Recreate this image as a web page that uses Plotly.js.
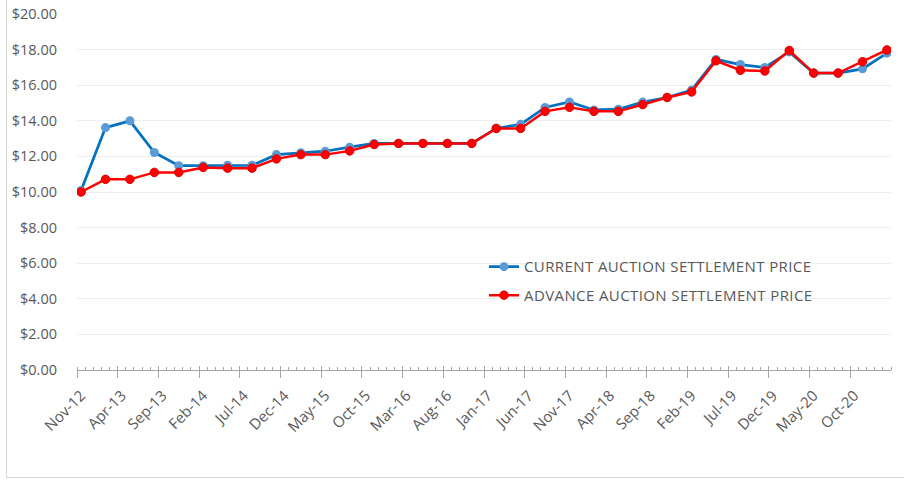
<!DOCTYPE html>
<html>
<head>
<meta charset="utf-8">
<script src="https://cdn.plot.ly/plotly-3.0.1.min.js"></script>
<style>
  html, body { margin: 0; padding: 0; background: #ffffff; overflow: hidden; }
  #wrap { position: relative; width: 904px; height: 480px; overflow: hidden; }
  #chart { position: absolute; left: 0; top: 0; width: 904px; height: 480px; }
  #frame { position: absolute; left: 6px; top: -20px; width: 920px; height: 496px;
           border: 1px solid #d4d4d4; pointer-events: none; }
  .legendtext { letter-spacing: 0.4px; }
</style>
</head>
<body>
<div id="wrap">
  <div id="chart"></div>
  <div id="frame"></div>
</div>
<script>
// Auction dates (quarterly) from Nov-2012 to Feb-2021
const auctionDates = [
  "2012-11","2013-02","2013-05","2013-08","2013-11",
  "2014-02","2014-05","2014-08","2014-11",
  "2015-02","2015-05","2015-08","2015-11",
  "2016-02","2016-05","2016-08","2016-11",
  "2017-02","2017-05","2017-08","2017-11",
  "2018-02","2018-05","2018-08","2018-11",
  "2019-02","2019-05","2019-08","2019-11",
  "2020-02","2020-05","2020-08","2020-11",
  "2021-02"
];

const currentPrice = [
  10.09, 13.62, 14.00, 12.22, 11.48,
  11.48, 11.50, 11.50, 12.10,
  12.21, 12.29, 12.52, 12.73,
  12.73, 12.73, 12.73, 12.73,
  13.57, 13.80, 14.75, 15.06,
  14.61, 14.65, 15.05, 15.31,
  15.73, 17.45, 17.16, 17.00,
  17.87, 16.68, 16.68, 16.92,
  17.80
];

const advancePrice = [
  10.00, 10.71, 10.71, 11.10, 11.10,
  11.38, 11.34, 11.34, 11.86,
  12.10, 12.10, 12.31, 12.67,
  12.73, 12.73, 12.73, 12.73,
  13.57, 13.57, 14.53, 14.76,
  14.53, 14.53, 14.91, 15.31,
  15.62, 17.37, 16.84, 16.80,
  17.95, 16.68, 16.68, 17.32,
  17.98
];

const tickLabels = [
  "Nov-12","Apr-13","Sep-13","Feb-14","Jul-14","Dec-14","May-15","Oct-15",
  "Mar-16","Aug-16","Jan-17","Jun-17","Nov-17","Apr-18","Sep-18","Feb-19",
  "Jul-19","Dec-19","May-20","Oct-20"
];

const seriesNames = ["CURRENT AUCTION SETTLEMENT PRICE", "ADVANCE AUCTION SETTLEMENT PRICE"];

// month index relative to Nov-2012 (each month is one unit on the axis)
function monthIndex(s) {
  const [y, m] = s.split("-").map(Number);
  return (y - 2012) * 12 + (m - 11);
}
const xIdx = auctionDates.map(monthIndex);
const tickPos = tickLabels.map((_, i) => i * 5 - 0.5);

const FONT = "'Open Sans', 'Noto Sans', sans-serif";
const GRAY = "#595959";

const traces = [
  {
    x: xIdx, y: currentPrice, name: seriesNames[0],
    type: "scatter", mode: "lines+markers",
    line: { color: "#0070C0", width: 2.75 },
    marker: { color: "#5B9BD5", size: 9 },
    legendgroup: "a"
  },
  {
    x: xIdx, y: advancePrice, name: seriesNames[1],
    type: "scatter", mode: "lines+markers",
    line: { color: "#FF0000", width: 2.5 },
    marker: { color: "#FF0000", size: 8.5, line: { color: "#E00000", width: 1 } },
    legendgroup: "b"
  },
  { x: [], y: [], xaxis: "x2", showlegend: false, hoverinfo: "skip" }
];

const layout = {
  width: 904, height: 480,
  margin: { l: 77, r: 13, t: 14, b: 110 },
  paper_bgcolor: "#ffffff", plot_bgcolor: "#ffffff",
  font: { family: FONT, color: GRAY, size: 15 },
  showlegend: true,
  legend: {
    x: 0.5, y: 0.336, xanchor: "left", yanchor: "top",
    bgcolor: "rgba(0,0,0,0)", borderwidth: 0,
    font: { family: FONT, size: 15, color: GRAY },
    traceorder: "grouped", tracegroupgap: 6, itemwidth: 30
  },
  xaxis: {
    type: "linear", range: [-0.5, 99.5],
    tickmode: "array", tickvals: tickPos, ticktext: tickLabels,
    tickangle: -45, ticklabelshift: 4, ticklabelstandoff: 3,
    tickfont: { family: FONT, size: 15, color: GRAY },
    ticks: "outside", ticklen: 7, tickwidth: 1, tickcolor: "#a6a6a6",
    minor: { tickmode: "linear", tick0: -0.5, dtick: 1, ticks: "inside", ticklen: 3, tickwidth: 1, tickcolor: "#a6a6a6", showgrid: false },
    showline: true, linecolor: "#a6a6a6", linewidth: 1,
    showgrid: false, zeroline: false, fixedrange: true
  },
  xaxis2: {
    overlaying: "x", matches: "x", side: "bottom", anchor: "y",
    tickmode: "array", tickvals: tickPos,
    ticks: "inside", ticklen: 4, tickwidth: 1, tickcolor: "#a6a6a6",
    showticklabels: false, showline: false, showgrid: false, zeroline: false
  },
  yaxis: {
    range: [0, 20], tickmode: "linear", tick0: 0, dtick: 2,
    tickprefix: "$", tickformat: ".2f",
    tickfont: { family: FONT, size: 14.5, color: GRAY },
    ticks: "", ticklabelstandoff: 19,
    showgrid: true, gridcolor: "#eeeeee", gridwidth: 1,
    zeroline: false, showline: false, fixedrange: true
  }
};

Plotly.newPlot("chart", traces, layout, { displayModeBar: false, staticPlot: true });
</script>
</body>
</html>
